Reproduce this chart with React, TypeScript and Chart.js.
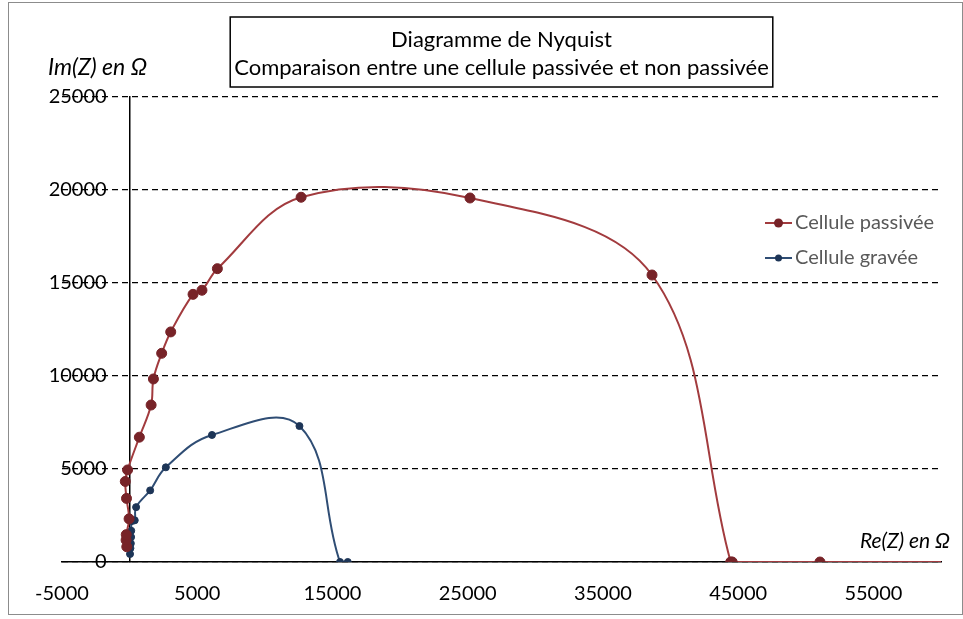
import React, { useEffect, useRef } from 'react';
import { Chart, registerables } from 'chart.js';

Chart.register(...registerables);

// ---- Data ----
const seriesNames = ['Cellule passivée', 'Cellule gravée'];
const titleLines = ['Diagramme de Nyquist', 'Comparaison entre une cellule passivée et non passivée'];
const yAxisTitle = 'Im(Z) en Ω';
const xAxisTitle = 'Re(Z) en Ω';

const passiveRe = [-210, -260, -250, -40, -230, -320, -150, 720, 1590, 1760, 2370, 3040, 4690, 5350, 6490, 12680, 25170, 38630, 44450, 44560, 51050, 65000];
const passiveIm = [820, 1180, 1470, 2320, 3420, 4330, 4950, 6710, 8440, 9840, 11220, 12370, 14390, 14610, 15770, 19610, 19570, 15430, 0, 0, 0, 0];

const graveRe = [30, 60, 90, 110, 120, 170, 380, 480, 1520, 2680, 6090, 12560, 15560, 16130];
const graveIm = [430, 740, 1000, 1340, 1680, 2200, 2240, 2950, 3850, 5090, 6830, 7310, 0, 0];

const xTickValues = [-5000, 5000, 15000, 25000, 35000, 45000, 55000];
const xMin = -5000;
const xMax = 60000;
const yMin = 0;
const yMax = 25000;
const yStep = 5000;

const FONT = 'Lato';

const decorPlugin = {
  id: 'decor',
  beforeDraw(chart: any) {
    const ctx = chart.ctx;
    ctx.save();
    ctx.strokeStyle = '#8c8c8c';
    ctx.lineWidth = 1;
    ctx.strokeRect(8.5, 2.5, chart.width - 9, chart.height - 7);
    ctx.restore();
  },
  afterDraw(chart: any) {
    const ctx = chart.ctx;
    const area = chart.chartArea;
    ctx.save();

    // title frame
    const tb = chart.titleBlock;
    if (tb) {
      ctx.font = `22px ${FONT}`;
      let w = 0;
      titleLines.forEach((l) => { w = Math.max(w, ctx.measureText(l).width); });
      const cx = (tb.left + tb.right) / 2;
      ctx.strokeStyle = '#000';
      ctx.lineWidth = 1.5;
      ctx.strokeRect(cx - w / 2 - 4, tb.top + 17, w + 8, 70);
    }

    // axis titles
    ctx.fillStyle = '#000';
    ctx.textBaseline = 'middle';
    ctx.textAlign = 'left';
    ctx.font = `italic 23px ${FONT}`;
    ctx.fillText(yAxisTitle, area.left - 14, area.top - 29);
    ctx.textAlign = 'right';
    ctx.font = `italic 21px ${FONT}`;
    ctx.fillText(xAxisTitle, area.right + 9, area.bottom - 21);

    // legend
    const items = chart.data.datasets;
    items.forEach((ds: any, i: number) => {
      const x = area.right - 176;
      const y = area.top + 126 + i * 35;
      ctx.strokeStyle = ds.borderColor;
      ctx.lineWidth = 2;
      ctx.beginPath();
      ctx.moveTo(x, y);
      ctx.lineTo(x + 27, y);
      ctx.stroke();
      ctx.fillStyle = ds.pointBackgroundColor;
      ctx.beginPath();
      ctx.arc(x + 13.5, y, i === 0 ? 4.5 : 3.5, 0, Math.PI * 2);
      ctx.fill();
      ctx.fillStyle = '#595959';
      ctx.font = `20px ${FONT}`;
      ctx.textAlign = 'left';
      ctx.textBaseline = 'middle';
      ctx.fillText(ds.label, x + 30, y);
    });
    ctx.restore();
  },
};

export default function App() {
  const ref = useRef<HTMLCanvasElement>(null);

  useEffect(() => {
    Chart.defaults.font.family = FONT;
    const chart = new Chart(ref.current as HTMLCanvasElement, {
      type: 'scatter',
      data: {
        datasets: [
          {
            label: seriesNames[0],
            data: passiveRe.map((x, i) => ({ x, y: passiveIm[i] })),
            showLine: true,
            tension: 0.36,
            borderColor: '#A23B3E',
            borderWidth: 2,
            pointRadius: 5,
            pointBackgroundColor: '#772328',
            pointBorderColor: '#772328',
            pointBorderWidth: 1,
          },
          {
            label: seriesNames[1],
            data: graveRe.map((x, i) => ({ x, y: graveIm[i] })),
            showLine: true,
            tension: 0.4,
            borderColor: '#2F4D74',
            borderWidth: 2,
            pointRadius: 3.5,
            pointBackgroundColor: '#1D3557',
            pointBorderColor: '#1D3557',
            pointBorderWidth: 1,
          },
        ],
      },
      options: {
        animation: false,
        responsive: true,
        maintainAspectRatio: false,
        layout: { padding: { left: 62, right: 22, top: 0, bottom: 12 } },
        plugins: {
          legend: { display: false },
          tooltip: { enabled: false },
          title: {
            display: true,
            text: titleLines,
            color: '#000',
            font: { family: FONT, size: 22, weight: 'normal', lineHeight: '28px' },
            padding: { top: 26, bottom: 15 },
          },
        },
        scales: {
          x: {
            type: 'linear',
            position: 'bottom',
            min: xMin,
            max: xMax,
            afterBuildTicks: (s: any) => {
              s.ticks = xTickValues.map((v) => ({ value: v }));
            },
            afterFit: (s: any) => {
              s.height = 45;
            },
            grid: { display: false, drawTicks: false },
            border: { display: true, color: '#000', width: 1.5 },
            ticks: {
              color: '#000',
              font: { family: FONT, size: 20 },
              padding: 20,
              maxRotation: 0,
              autoSkip: false,
              callback: (v: any) => String(v),
            },
          },
          y: {
            type: 'linear',
            position: { x: 0 },
            min: yMin,
            max: yMax,
            ticks: { display: false, stepSize: yStep },
            grid: { color: '#000', lineWidth: 1.2, drawTicks: false },
            border: { display: true, color: '#000', width: 1.5, dash: [6, 4] },
          },
          yl: {
            type: 'linear',
            axis: 'y',
            position: { x: -1700 },
            min: yMin,
            max: yMax,
            grid: { display: false, drawTicks: false },
            border: { display: false },
            ticks: {
              stepSize: yStep,
              color: '#000',
              font: { family: FONT, size: 20 },
              padding: 0,
              callback: (v: any) => String(v),
            },
          },
        },
      } as any,
      plugins: [decorPlugin],
    });
    return () => chart.destroy();
  }, []);

  return (
    <div style={{ position: 'absolute', left: 0, top: 0, width: 963, height: 619, background: '#fff' }}>
      <canvas ref={ref} />
    </div>
  );
}
